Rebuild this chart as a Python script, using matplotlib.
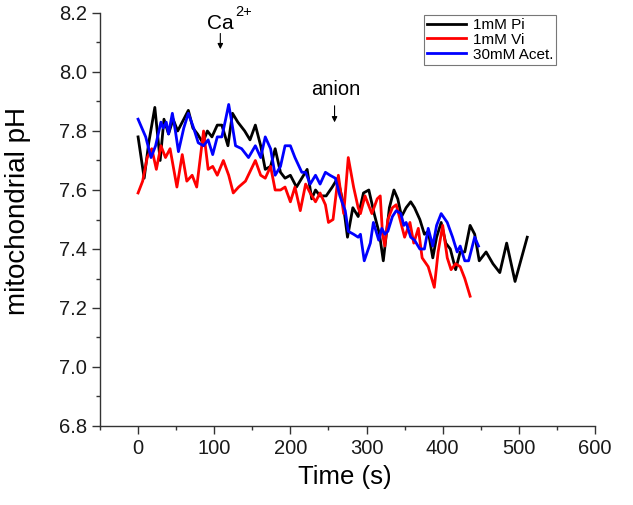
import matplotlib
matplotlib.use("Agg")
import matplotlib.pyplot as plt
from matplotlib.ticker import MultipleLocator, FormatStrFormatter

plt.rcParams['font.family'] = ['Liberation Sans', 'DejaVu Sans']

# ---- data ----
pi_t = [0, 8, 14, 22, 29, 34, 40, 46, 52, 60, 66, 72, 78, 85, 91, 97, 104, 110, 118, 124,
        131, 140, 147, 154, 161, 167, 174, 180, 187, 193, 200, 208, 215, 222, 228, 233, 239,
        247, 255, 262, 269, 275, 282, 289, 296, 303, 310, 317, 322, 326, 330, 336, 341, 346,
        352, 358, 363, 370, 376, 381, 387, 392, 398, 404, 410, 417, 423, 429, 436, 442, 448,
        457, 466, 475, 484, 495, 511]
pi_v = [7.78, 7.64, 7.76, 7.88, 7.70, 7.84, 7.79, 7.84, 7.80, 7.84, 7.87, 7.81, 7.79, 7.76,
        7.80, 7.78, 7.82, 7.82, 7.75, 7.86, 7.83, 7.80, 7.77, 7.82, 7.75, 7.67, 7.68, 7.74,
        7.66, 7.64, 7.65, 7.61, 7.64, 7.67, 7.57, 7.60, 7.58, 7.58, 7.61, 7.64, 7.56, 7.44,
        7.54, 7.51, 7.59, 7.60, 7.52, 7.45, 7.36, 7.45, 7.54, 7.60, 7.57, 7.51, 7.54, 7.56,
        7.54, 7.50, 7.45, 7.46, 7.37, 7.44, 7.49, 7.42, 7.40, 7.33, 7.39, 7.39, 7.48, 7.45,
        7.36, 7.39, 7.35, 7.32, 7.42, 7.29, 7.44]

vi_t = [0, 6, 12, 18, 24, 30, 36, 42, 51, 58, 64, 71, 77, 86, 92, 98, 104, 112, 119, 125,
        132, 141, 154, 161, 167, 174, 180, 187, 193, 200, 206, 213, 220, 226, 233, 239, 246,
        250, 256, 263, 270, 276, 283, 289, 292, 298, 307, 314, 318, 321, 324, 328, 334, 339,
        345, 350, 357, 362, 368, 373, 381, 389, 394, 400, 406, 411, 417, 423, 429, 436]
vi_v = [7.59, 7.63, 7.71, 7.74, 7.67, 7.75, 7.71, 7.74, 7.61, 7.72, 7.63, 7.65, 7.61, 7.80,
        7.67, 7.68, 7.65, 7.70, 7.65, 7.59, 7.61, 7.63, 7.70, 7.65, 7.64, 7.68, 7.60, 7.60,
        7.61, 7.56, 7.61, 7.53, 7.62, 7.59, 7.56, 7.59, 7.55, 7.49, 7.50, 7.65, 7.52, 7.71,
        7.61, 7.54, 7.52, 7.58, 7.52, 7.57, 7.58, 7.45, 7.41, 7.50, 7.54, 7.55, 7.49, 7.44,
        7.49, 7.42, 7.47, 7.37, 7.34, 7.27, 7.39, 7.48, 7.37, 7.33, 7.35, 7.34, 7.30, 7.24]

acet_t = [0, 10, 17, 23, 30, 33, 37, 40, 45, 49, 53, 60, 66, 73, 79, 86, 92, 98, 104, 110,
          115, 119, 123, 128, 136, 145, 154, 161, 167, 174, 180, 187, 193, 200, 206, 215, 220,
          226, 233, 239, 246, 252, 259, 265, 272, 276, 283, 289, 292, 297, 305, 309, 316, 320,
          324, 328, 334, 339, 345, 349, 352, 358, 363, 370, 376, 381, 387, 392, 398, 406, 413,
          419, 423, 429, 434, 442, 447]
acet_v = [7.84, 7.78, 7.71, 7.75, 7.83, 7.81, 7.83, 7.79, 7.86, 7.80, 7.73, 7.81, 7.86, 7.81,
          7.76, 7.75, 7.77, 7.72, 7.78, 7.78, 7.84, 7.89, 7.83, 7.75, 7.74, 7.71, 7.75, 7.71,
          7.78, 7.74, 7.65, 7.68, 7.75, 7.75, 7.71, 7.66, 7.66, 7.62, 7.65, 7.62, 7.66, 7.65,
          7.64, 7.58, 7.53, 7.46, 7.45, 7.44, 7.45, 7.36, 7.42, 7.49, 7.43, 7.47, 7.45, 7.46,
          7.51, 7.53, 7.52, 7.48, 7.49, 7.44, 7.43, 7.40, 7.40, 7.47, 7.41, 7.48, 7.52, 7.49,
          7.44, 7.39, 7.41, 7.36, 7.36, 7.44, 7.41]

labels = ['1mM Pi', '1mM Vi', '30mM Acet.']
colors = ['#000000', '#ff0000', '#0000ff']

# ---- figure ----
fig = plt.figure(figsize=(6.33, 5.05), dpi=100)
ax = fig.add_axes([100/633, 1-426/505, (595-100)/633, (426-13)/505])

for t, v, lab, c in zip([pi_t, vi_t, acet_t], [pi_v, vi_v, acet_v], labels, colors):
    ax.plot(t, v, color=c, lw=2, label=lab)

ax.set_xlim(-50, 600)
ax.set_ylim(6.8, 8.2)
ax.xaxis.set_major_locator(MultipleLocator(100))
ax.xaxis.set_minor_locator(MultipleLocator(50))
ax.yaxis.set_major_locator(MultipleLocator(0.2))
ax.yaxis.set_minor_locator(MultipleLocator(0.1))
ax.yaxis.set_major_formatter(FormatStrFormatter('%.1f'))
for s in ['top', 'right']:
    ax.spines[s].set_visible(False)
for s in ['left', 'bottom']:
    ax.spines[s].set_color('#333333')
    ax.spines[s].set_linewidth(1.0)
ax.tick_params(which='major', direction='out', length=6, width=1, labelsize=14.5,
               color='#333333', labelcolor='#1a1a1a')
ax.tick_params(which='minor', direction='out', length=3, width=1, color='#333333')

ax.set_xlabel('Time (s)', fontsize=18.5)
ax.xaxis.set_label_coords(0.495, -0.095)
ax.set_ylabel('mitochondrial pH', fontsize=20)
ax.yaxis.set_label_coords(-0.14, 0.52)

leg = ax.legend(loc='upper right', bbox_to_anchor=(556/633, 1-15/505), bbox_transform=fig.transFigure,
                fontsize=11, frameon=True, fancybox=False, edgecolor='#555555',
                handlelength=2.6, borderpad=0.2, labelspacing=0.05, handletextpad=0.4,
                borderaxespad=0)
leg.get_frame().set_linewidth(0.8)

ax.annotate('', xy=(108, 8.068), xytext=(108, 8.14),
            arrowprops=dict(arrowstyle='-|>', color='black', lw=0.8, mutation_scale=8))
ax.text(108, 8.147, 'Ca', fontsize=15, ha='center', va='baseline')
ax.text(127, 8.19, '2+', fontsize=10.5, ha='left', va='baseline')
ax.annotate('', xy=(258, 7.82), xytext=(258, 7.895),
            arrowprops=dict(arrowstyle='-|>', color='black', lw=0.8, mutation_scale=8))
ax.text(260, 7.91, 'anion', fontsize=14.5, ha='center', va='bottom')

fig.savefig('out.png', dpi=100)
